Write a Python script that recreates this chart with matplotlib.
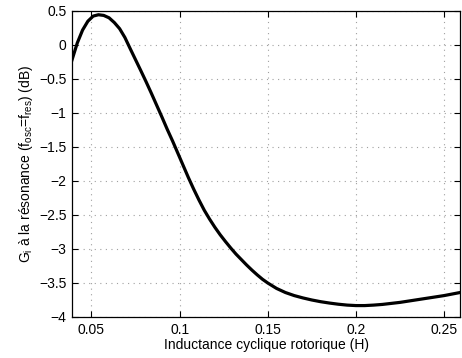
import matplotlib
matplotlib.use('Agg')
import matplotlib.pyplot as plt

# values
inductance = [0.039, 0.042, 0.045, 0.048, 0.051, 0.054, 0.057, 0.060, 0.063, 0.066,
              0.069, 0.072, 0.075, 0.078, 0.081, 0.084, 0.087, 0.090, 0.093, 0.096,
              0.099, 0.102, 0.105, 0.108, 0.111, 0.114, 0.117, 0.120, 0.123, 0.126,
              0.129, 0.132, 0.135, 0.138, 0.141, 0.144, 0.147, 0.150, 0.155, 0.160,
              0.165, 0.170, 0.175, 0.180, 0.185, 0.190, 0.195, 0.200, 0.205, 0.210,
              0.215, 0.220, 0.225, 0.230, 0.235, 0.240, 0.245, 0.250, 0.255, 0.259]
gain_db = [-0.22, 0.03, 0.22, 0.35, 0.425, 0.445, 0.435, 0.40, 0.33, 0.24,
           0.11, -0.054, -0.215, -0.376, -0.54, -0.71, -0.885, -1.06, -1.24, -1.41,
           -1.59, -1.77, -1.95, -2.12, -2.28, -2.43, -2.56, -2.68, -2.79, -2.89,
           -2.985, -3.075, -3.155, -3.235, -3.31, -3.38, -3.445, -3.50, -3.58, -3.64,
           -3.685, -3.72, -3.75, -3.775, -3.795, -3.812, -3.825, -3.832, -3.832, -3.825,
           -3.815, -3.80, -3.785, -3.765, -3.745, -3.725, -3.705, -3.685, -3.66, -3.64]

x_ticks = [0.05, 0.1, 0.15, 0.2, 0.25]
x_labels = ['0.05', '0.1', '0.15', '0.2', '0.25']
y_ticks = [0.5, 0, -0.5, -1, -1.5, -2, -2.5, -3, -3.5, -4]
y_labels = ['0.5', '0', '\u22120.5', '\u22121', '\u22121.5', '\u22122', '\u22122.5', '\u22123', '\u22123.5', '\u22124']

plt.rcParams['font.family'] = ['Liberation Sans', 'DejaVu Sans']
plt.rcParams['mathtext.fontset'] = 'custom'
plt.rcParams['mathtext.rm'] = 'Liberation Sans'

fig = plt.figure(figsize=(4.62, 3.58), dpi=100)
ax = fig.add_axes([72 / 462, 41 / 358, 388 / 462, 306 / 358])

ax.plot(inductance, gain_db, color='black', linewidth=2.3)

ax.set_xlim(0.039, 0.259)
ax.set_ylim(-4, 0.5)
ax.set_xticks(x_ticks)
ax.set_xticklabels(x_labels)
ax.set_yticks(y_ticks)
ax.set_yticklabels(y_labels)

ax.grid(True, linestyle=(0, (1, 4)), color='#a0a0a0', linewidth=0.8)
ax.tick_params(direction='in', top=True, right=True, labelsize=10, length=4, width=0.8, pad=4)
for s in ax.spines.values():
    s.set_linewidth(0.9)

ax.set_xlabel('Inductance cyclique rotorique (H)', fontsize=10, labelpad=1)
ax.set_ylabel(r'G$_\mathregular{i}$ à la résonance (f$_\mathregular{osc}$=f$_\mathregular{res}$) (dB)',
              fontsize=10, labelpad=3)

fig.savefig('out.png', dpi=100)
